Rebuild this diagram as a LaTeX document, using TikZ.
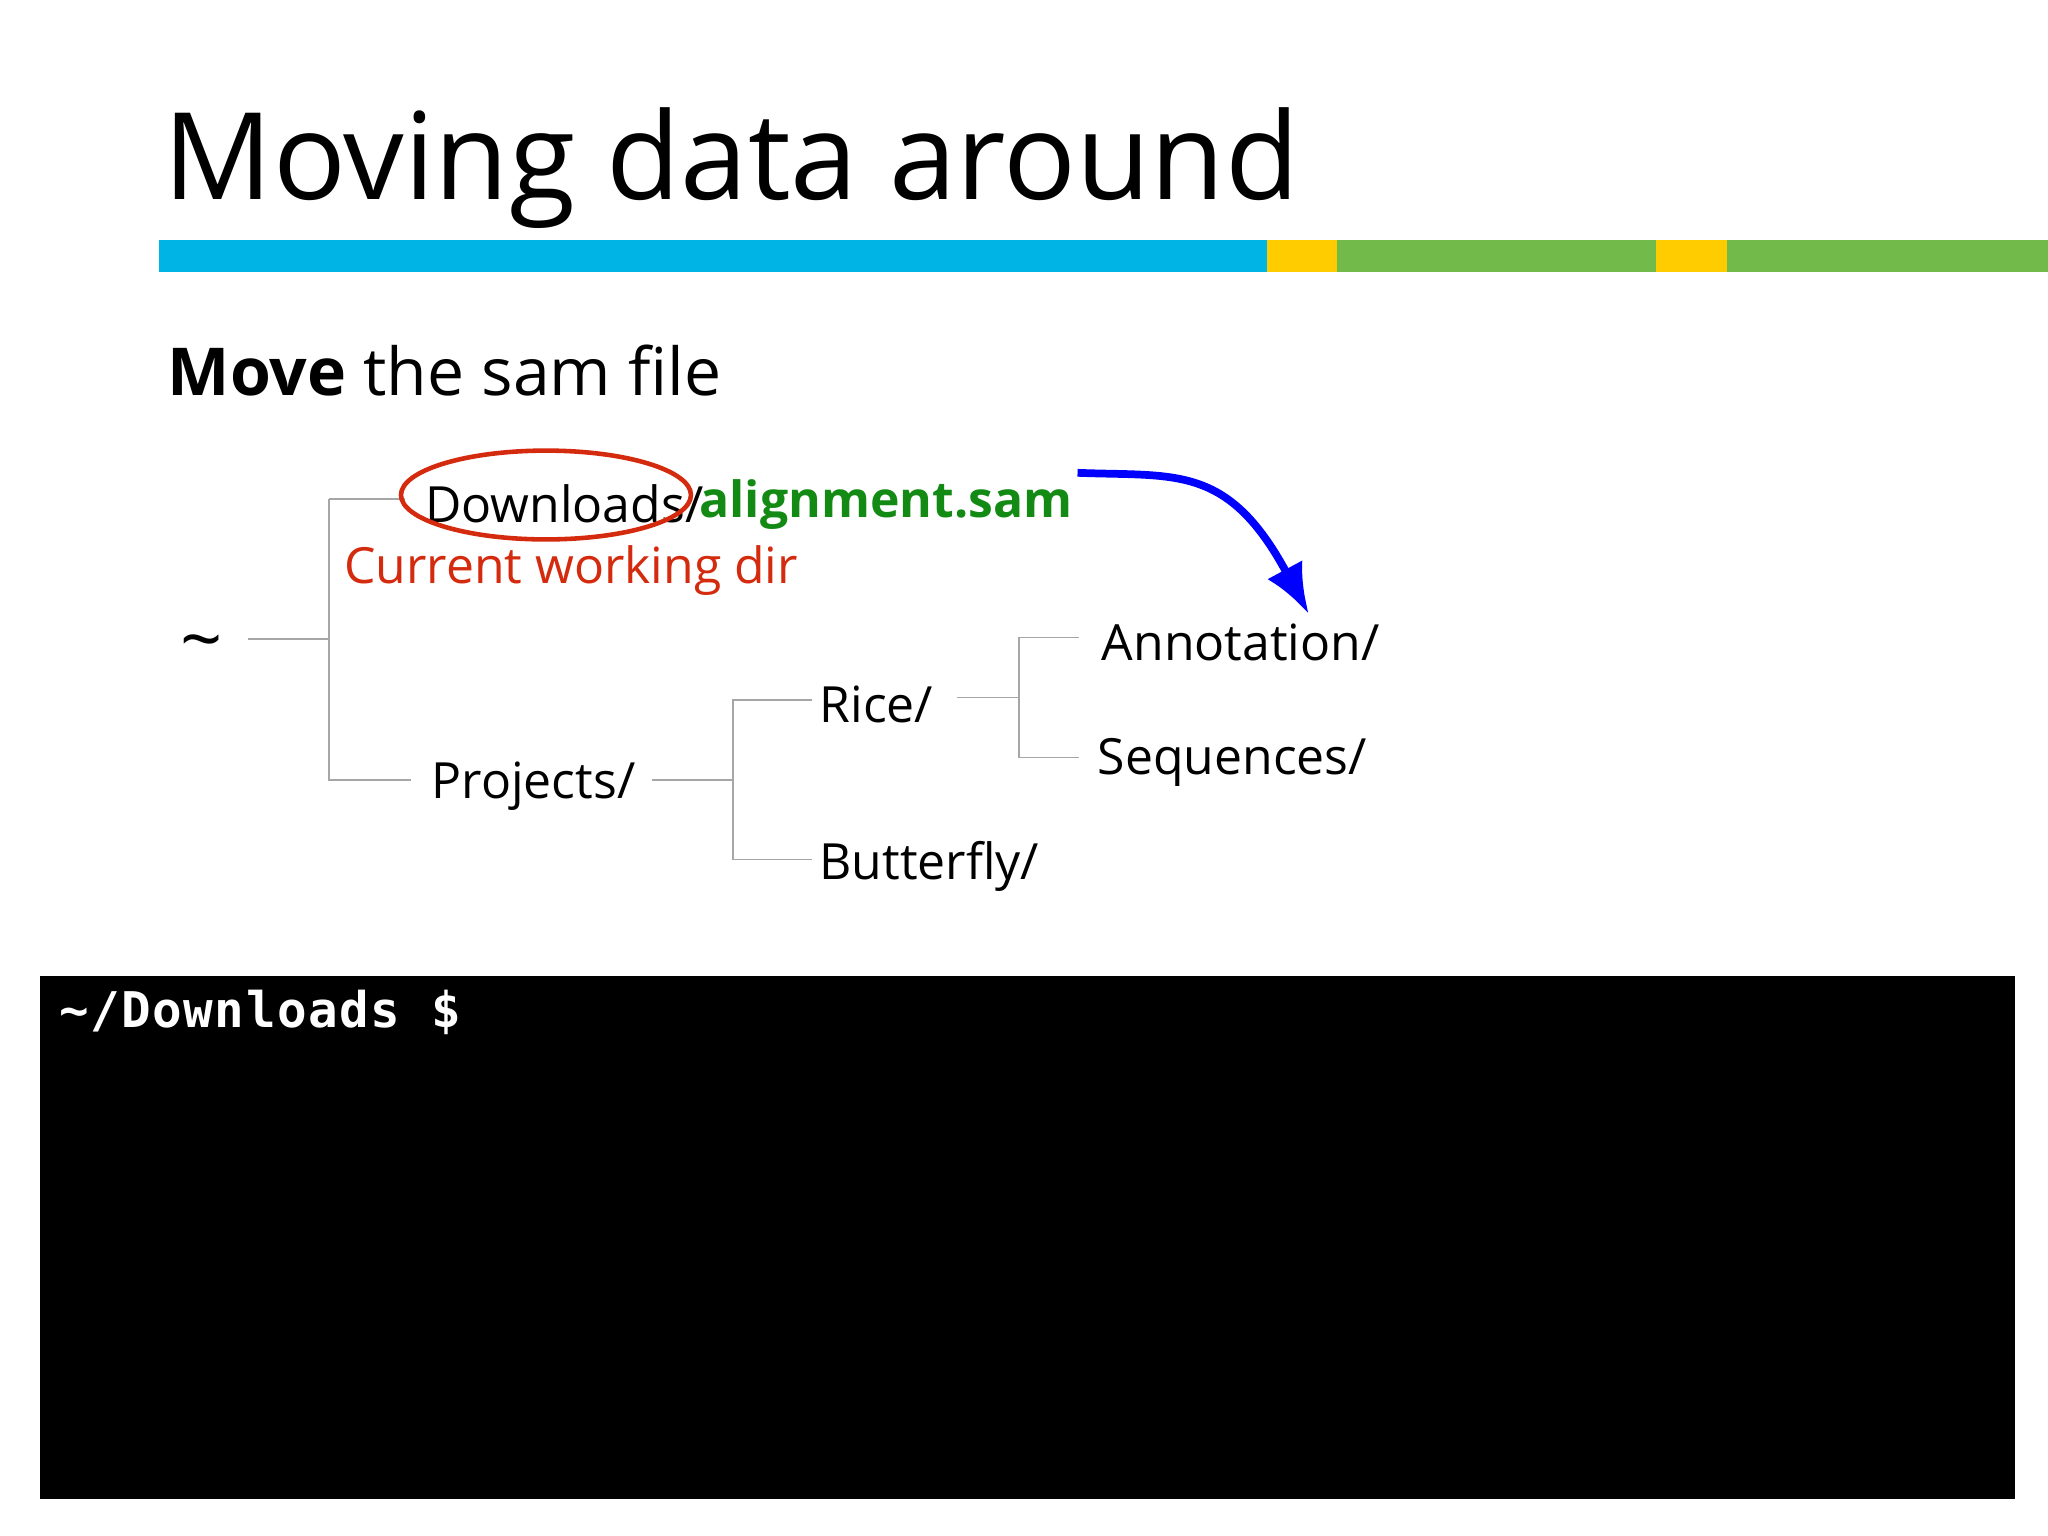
\documentclass[tikz,border=0pt]{standalone}
\usepackage{fontspec}
\usetikzlibrary{arrows.meta}
\setmainfont{Open Sans}
\newfontfamily\termfont{DejaVu Sans Mono}
\definecolor{barblue}{HTML}{00B4E6}
\definecolor{baryel}{HTML}{FFCC00}
\definecolor{bargreen}{HTML}{72BB4A}
\definecolor{samgreen}{HTML}{138A13}
\definecolor{cwdred}{HTML}{D42A0E}
\begin{document}
\begin{tikzpicture}[x=0.013061cm,y=-0.013061cm,
  tree/.style={font=\fontsize{14.2}{17}\selectfont,anchor=west,inner sep=0pt},
  branch/.style={draw=gray!70,line width=0.5pt}]
\useasboundingbox (0,0) rectangle (1568,1176);
\node[anchor=base west,inner sep=0pt,font=\fontsize{34.4}{40}\selectfont] (title) at (125,153) {Moving data around};
\fill[barblue] (122,184) rectangle (970,208);
\fill[baryel] (970,184) rectangle (1024,208);
\fill[bargreen] (1024,184) rectangle (1268,208);
\fill[baryel] (1268,184) rectangle (1322,208);
\fill[bargreen] (1322,184) rectangle (1568,208);
\node[anchor=base west,inner sep=0pt,font=\fontsize{18.8}{22}\selectfont] (sub) at (128,303) {\textbf{Move} the sam file};

\node[tree,font=\fontsize{21}{24}\selectfont] (home) at (138,498) {\char`\~};
\node[tree] (dl) at (325,386) {Downloads/};
\node[tree,font=\fontsize{14.2}{17}\selectfont\bfseries,text=samgreen] (sam) at (535,386) {alignment.sam};
\node[tree,text=cwdred] (cwd) at (263,437) {Current working dir};
\node[tree] (proj) at (330,602) {Projects/};
\node[tree] (rice) at (627,539) {Rice/};
\node[tree] (bf) at (627,663) {Butterfly/};
\node[tree] (ann) at (843,492) {Annotation/};
\node[tree] (seq) at (840,584) {Sequences/};

\coordinate (j1) at (252,489);
\coordinate (j2) at (561,597);
\coordinate (j3) at (780,534);
\draw[branch] (190,489) -- (j1);
\draw[branch] (252,382) -- (310,382) (252,382) -- (252,597) -- (315,597);
\draw[branch] (499,597) -- (j2);
\draw[branch] (622,536) -- (561,536) -- (561,658) -- (622,658);
\draw[branch] (733,534) -- (j3);
\draw[branch] (826,488) -- (780,488) -- (780,580) -- (826,580);

\draw[cwdred,line width=1.3pt] (418,379) ellipse [x radius=111,y radius=34];
\coordinate (arrs) at (825,362);
\draw[blue,line width=2.2pt,-{Latex[length=5mm,width=4mm]}] (arrs) .. controls (900,365) and (940,355) .. (1002,470);

\fill[black] (31,747) rectangle (1543,1148);
\node[anchor=base west,inner sep=0pt,text=white,font=\termfont\bfseries\fontsize{14}{17}\selectfont\addfontfeature{LetterSpace=3}] (prompt) at (45,787) {\char`\~/Downloads \$};
\end{tikzpicture}
\end{document}
